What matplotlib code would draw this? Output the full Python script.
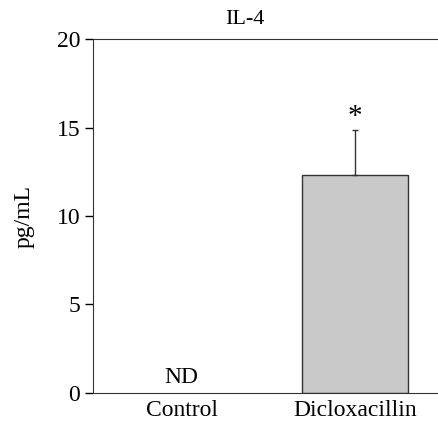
import matplotlib
matplotlib.use("Agg")
import matplotlib.pyplot as plt

categories = ["Control", "Dicloxacillin"]
values = [0, 12.3]
errors = [0, 2.55]
title = "IL-4"

plt.rcParams["font.family"] = ["Liberation Serif", "DejaVu Serif"]

fig = plt.figure(figsize=(4.38, 4.29), dpi=100)
ax = fig.add_axes([0.212, 0.084, 0.788, 0.825])

# only the treated group has a bar, control is not detected
ax.bar([1], [values[1]], width=0.61, color="#c9c9c9", edgecolor="#333333", linewidth=1)
ax.errorbar([1], [values[1]], yerr=[[0], [errors[1]]], fmt="none",
            ecolor="#333333", elinewidth=1, capsize=2, capthick=1)
ax.text(1, values[1] + errors[1], "*", ha="center", va="bottom", fontsize=21)
ax.text(0, 0.3, "ND", ha="center", va="bottom", fontsize=17)

ax.set_xlim(-0.514, 1.48)
ax.set_ylim(0, 20)
ax.set_yticks([0, 5, 10, 15, 20])
ax.set_xticks([0, 1])
ax.set_xticklabels(categories)
ax.tick_params(axis="x", length=0, labelsize=17, pad=5)
ax.tick_params(axis="y", length=6, labelsize=17, direction="out", width=1, pad=3)
ax.spines["right"].set_visible(False)
for s in ["left", "top", "bottom"]:
    ax.spines[s].set_color("#333333")
ax.set_ylabel("pg/mL", fontsize=17)
ax.yaxis.set_label_coords(-0.17, 0.5)
fig.text(245 / 438, 1 - 19 / 429, title, ha="center", va="center", fontsize=16)

fig.savefig("out.png", dpi=100)
